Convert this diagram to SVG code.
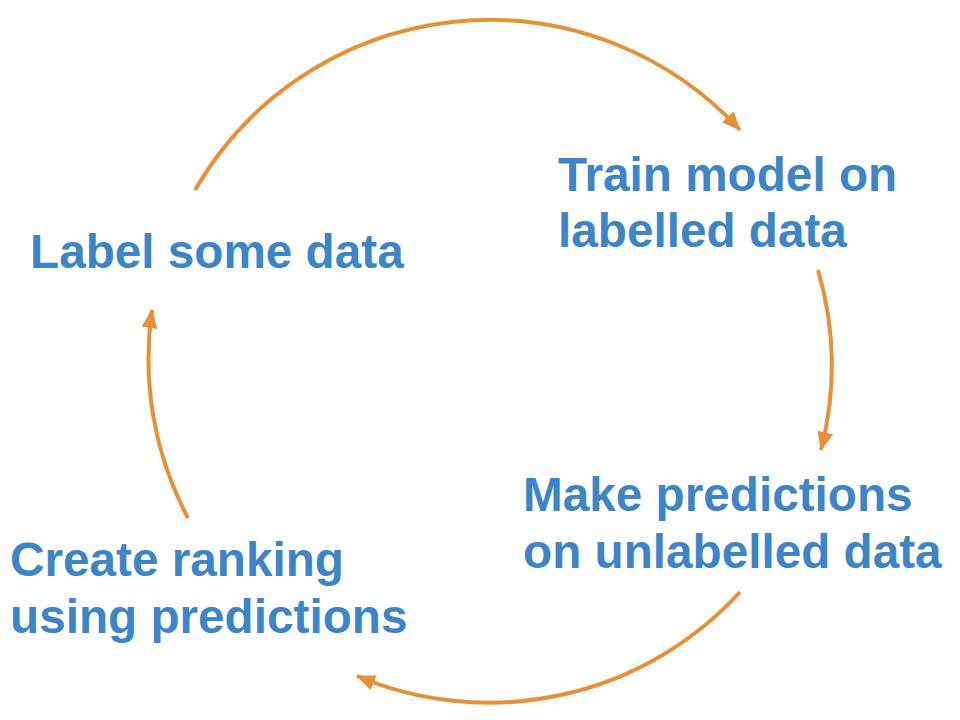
<svg xmlns="http://www.w3.org/2000/svg" width="960" height="720" viewBox="0 0 960 720">
<style>
.lbl{font-family:"Liberation Sans",Arial,sans-serif;font-weight:bold;font-size:47.7px;fill:#3d85c6}
.arc{fill:none;stroke:#e69138;stroke-width:4}
</style>
<defs>
<marker id="ah" markerUnits="userSpaceOnUse" markerWidth="20" markerHeight="18" refX="18" refY="9" orient="auto">
<path d="M0,1 L19,9 L0,17 Z" fill="#e69138"/>
</marker>
</defs>
<rect width="960" height="720" fill="#ffffff"/>
<g id="connectors">
<path class="arc" d="M195,190 A340,340 0 0,1 740,130" marker-end="url(#ah)"/>
<path class="arc" d="M818,270 A340,340 0 0,1 821,450" marker-end="url(#ah)"/>
<path class="arc" d="M740,592 A340,340 0 0,1 357,676" marker-end="url(#ah)"/>
<path class="arc" d="M188,518 A340,340 0 0,1 152,310" marker-end="url(#ah)"/>
</g>
<g id="label-data"><text class="lbl" x="30" y="268">Label some data</text></g>
<g id="train-model"><text class="lbl" x="558" y="191">Train model on</text><text class="lbl" x="558" y="247">labelled data</text></g>
<g id="make-predictions"><text class="lbl" x="523" y="511">Make predictions</text><text class="lbl" x="523" y="568">on unlabelled data</text></g>
<g id="create-ranking"><text class="lbl" x="10" y="576">Create ranking</text><text class="lbl" x="10" y="633">using predictions</text></g>
</svg>
